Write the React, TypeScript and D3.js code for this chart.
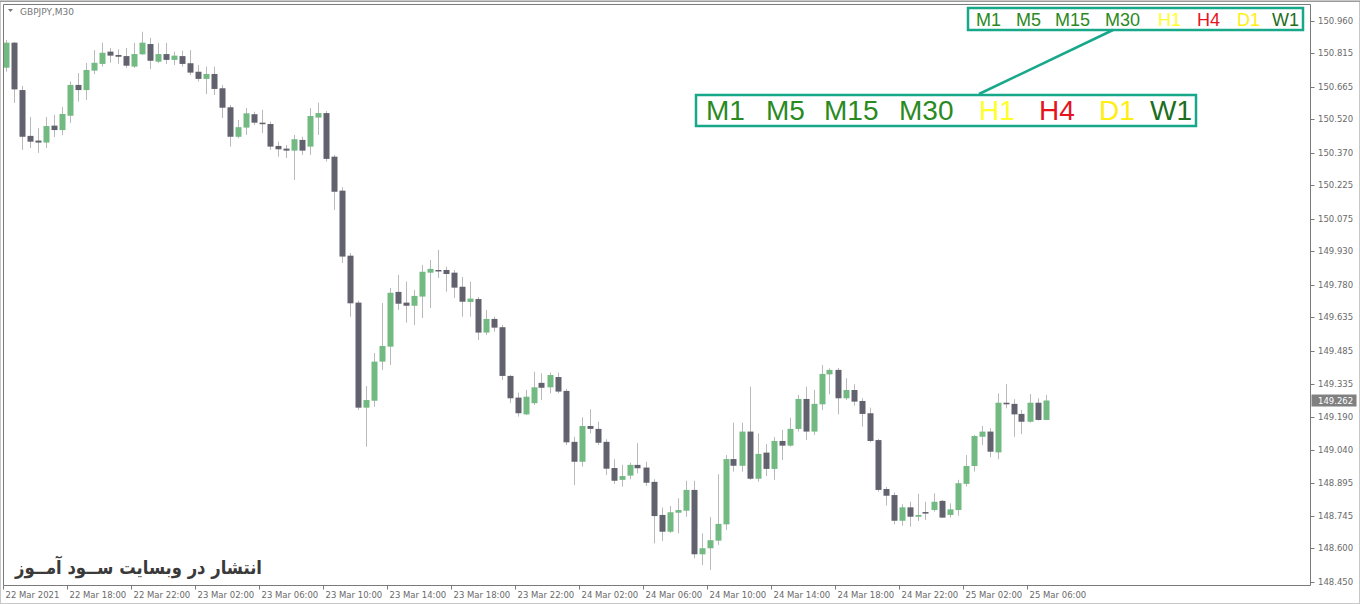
import React from "react";
import * as d3 from "d3";

const W = 1360;
const H = 604;
const FRAME = { left: 3.5, top: 4.5, right: 1310.5, bottom: 585.5 };

// OHLC of the GBPJPY M30 bars, 22 Mar 14:00 onward
const opens = [
  150.751, 150.863, 150.651, 150.446, 150.425, 150.416, 150.492, 150.472, 150.536, 150.674,
  150.651, 150.738, 150.768, 150.823, 150.808, 150.803, 150.756, 150.811, 150.857, 150.778,
  150.812, 150.786, 150.803, 150.771, 150.733, 150.701, 150.723, 150.659, 150.574, 150.442,
  150.483, 150.543, 150.505, 150.499, 150.401, 150.389, 150.38, 150.428, 150.398, 150.528,
  150.548, 150.353, 150.201, 149.91, 149.7, 149.23, 149.261, 149.436, 149.503, 149.748,
  149.7, 149.686, 149.727, 149.834, 149.846, 149.846, 149.834, 149.771, 149.703, 149.716,
  149.566, 149.627, 149.59, 149.372, 149.275, 149.2, 149.25, 149.341, 149.321, 149.367,
  149.305, 149.077, 148.988, 149.148, 149.135, 149.077, 148.96, 148.907, 148.926, 148.974,
  148.962, 148.898, 148.75, 148.675, 148.76, 148.769, 148.862, 148.574, 148.601, 148.635,
  148.708, 149.0, 148.97, 149.123, 148.912, 149.029, 148.956, 149.081, 149.06, 149.135,
  149.269, 149.123, 149.245, 149.379, 149.399, 149.272, 149.309, 149.26, 149.205, 149.085,
  148.866, 148.839, 148.724, 148.784, 148.742, 148.763, 148.772, 148.813, 148.75, 148.772,
  148.889, 148.969, 149.1, 149.123, 149.03, 149.252, 149.247, 149.202, 149.167, 149.252,
  149.175,
];
const highs = [
  150.875, 150.867, 150.669, 150.531, 150.481, 150.531, 150.54, 150.575, 150.689, 150.727,
  150.772, 150.83, 150.863, 150.839, 150.833, 150.839, 150.862, 150.912, 150.884, 150.862,
  150.862, 150.823, 150.827, 150.83, 150.763, 150.756, 150.756, 150.674, 150.584, 150.517,
  150.571, 150.554, 150.562, 150.51, 150.42, 150.405, 150.45, 150.442, 150.57, 150.595,
  150.557, 150.361, 150.217, 149.922, 149.709, 149.327, 149.475, 149.698, 149.766, 149.824,
  149.794, 149.757, 149.868, 149.891, 149.936, 149.861, 149.846, 149.815, 149.794, 149.725,
  149.667, 149.637, 149.6, 149.376, 149.297, 149.309, 149.391, 149.384, 149.387, 149.387,
  149.314, 149.1, 149.187, 149.223, 149.167, 149.089, 148.999, 148.974, 148.984, 149.071,
  148.988, 148.91, 148.783, 148.79, 148.825, 148.903, 148.903, 148.668, 148.74, 148.932,
  149.018, 149.163, 149.163, 149.324, 149.115, 149.068, 149.098, 149.13, 149.185, 149.287,
  149.324, 149.309, 149.421, 149.406, 149.408, 149.362, 149.335, 149.272, 149.23, 149.09,
  148.875, 148.851, 148.798, 148.809, 148.844, 148.809, 148.847, 148.817, 148.802, 148.907,
  149.018, 149.108, 149.148, 149.138, 149.294, 149.336, 149.268, 149.22, 149.291, 149.272,
  149.287,
];
const lows = [
  150.733, 150.593, 150.383, 150.392, 150.37, 150.392, 150.441, 150.45, 150.504, 150.599,
  150.607, 150.723, 150.756, 150.773, 150.768, 150.75, 150.75, 150.808, 150.745, 150.772,
  150.768, 150.763, 150.756, 150.718, 150.689, 150.633, 150.629, 150.526, 150.398, 150.435,
  150.45, 150.495, 150.459, 150.383, 150.353, 150.347, 150.249, 150.361, 150.361, 150.45,
  150.331, 150.115, 149.877, 149.637, 149.22, 149.055, 149.234, 149.399, 149.421, 149.667,
  149.61, 149.6, 149.631, 149.676, 149.81, 149.749, 149.721, 149.637, 149.637, 149.533,
  149.555, 149.57, 149.354, 149.25, 149.19, 149.197, 149.242, 149.264, 149.294, 149.294,
  149.063, 148.884, 148.966, 149.115, 149.063, 148.929, 148.889, 148.877, 148.91, 148.936,
  148.88, 148.623, 148.634, 148.669, 148.668, 148.742, 148.556, 148.526, 148.504, 148.616,
  148.683, 148.944, 148.944, 148.907, 148.899, 148.924, 148.907, 148.996, 149.055, 149.123,
  149.085, 149.108, 149.22, 149.29, 149.2, 149.264, 149.239, 149.145, 149.075, 148.854,
  148.792, 148.708, 148.702, 148.698, 148.723, 148.728, 148.765, 148.737, 148.738, 148.747,
  148.877, 148.944, 149.063, 149.008, 148.999, 149.227, 149.1, 149.112, 149.163, 149.172,
  149.175,
];
const closes = [
  150.863, 150.654, 150.442, 150.42, 150.416, 150.49, 150.472, 150.544, 150.674, 150.651,
  150.741, 150.773, 150.818, 150.805, 150.8, 150.76, 150.812, 150.863, 150.782, 150.812,
  150.786, 150.805, 150.768, 150.729, 150.701, 150.723, 150.656, 150.572, 150.442, 150.485,
  150.547, 150.505, 150.499, 150.398, 150.386, 150.38, 150.431, 150.38, 150.535, 150.548,
  150.343, 150.196, 149.906, 149.697, 149.23, 149.264, 149.436, 149.506, 149.744, 149.695,
  149.686, 149.73, 149.838, 149.851, 149.842, 149.828, 149.767, 149.704, 149.718, 149.566,
  149.627, 149.588, 149.372, 149.272, 149.205, 149.279, 149.321, 149.319, 149.376, 149.302,
  149.075, 148.988, 149.148, 149.135, 149.073, 148.957, 148.903, 148.924, 148.974, 148.959,
  148.894, 148.745, 148.675, 148.762, 148.772, 148.862, 148.574, 148.601, 148.637, 148.71,
  149.0, 148.97, 149.123, 148.912, 149.023, 148.956, 149.081, 149.06, 149.135, 149.269,
  149.123, 149.247, 149.381, 149.399, 149.272, 149.309, 149.257, 149.202, 149.081, 148.862,
  148.836, 148.724, 148.784, 148.742, 148.75, 148.756, 148.809, 148.738, 148.775, 148.892,
  148.969, 149.103, 149.123, 149.033, 149.252, 149.245, 149.2, 149.167, 149.252, 149.175,
  149.262,
];

const priceTicks = [
  150.96, 150.815, 150.665, 150.52, 150.37, 150.225, 150.075, 149.93, 149.78, 149.635,
  149.485, 149.335, 149.19, 149.04, 148.895, 148.745, 148.6, 148.45,
];
const lastPrice = 149.262;

const timeTickBars = [0, 8, 16, 24, 32, 40, 48, 56, 64, 72, 80, 88, 96, 104, 112, 120, 128];
const timeTickLabels = [
  "22 Mar 2021", "22 Mar 18:00", "22 Mar 22:00", "23 Mar 02:00", "23 Mar 06:00",
  "23 Mar 10:00", "23 Mar 14:00", "23 Mar 18:00", "23 Mar 22:00", "24 Mar 02:00",
  "24 Mar 06:00", "24 Mar 10:00", "24 Mar 14:00", "24 Mar 18:00", "24 Mar 22:00",
  "25 Mar 02:00", "25 Mar 06:00",
];

const tfNames = ["M1", "M5", "M15", "M30", "H1", "H4", "D1", "W1"];
const tfColors = ["#2a8a22", "#2a8a22", "#2a8a22", "#2a8a22", "#ffff2a", "#e3141e", "#ffee10", "#1d6e1d"];

const TEAL = "#17a88a";
const BULL = "#72b982";
const BEAR = "#62626f";
const WICK = "#b9b9b9";
const AXIS_FONT = "DejaVu Sans, Tahoma, sans-serif";

export default function App() {
  const x = d3.scaleLinear().domain([0, 130]).range([5.5, 1045.5]);
  const y = d3.scaleLinear().domain([148.45, 150.96]).range([582, 21]);
  const bodyW = 6;

  const bars = d3.range(opens.length).map((i) => ({
    i,
    o: opens[i],
    h: highs[i],
    l: lows[i],
    c: closes[i],
  }));

  // legend label offsets (small strip and enlarged copy)
  const smallX = [976, 1016, 1055, 1105, 1158, 1197, 1237, 1272];
  const bigX = [706, 766, 824, 899, 979, 1039, 1099, 1150];

  return (
    <svg
      width={W}
      height={H}
      style={{ position: "absolute", left: 0, top: 0, background: "#fff", display: "block" }}
    >
      <rect x={0.5} y={0.5} width={W - 1} height={H - 1} fill="#fff" stroke="#c8c8c8" />
      <line x1={0} x2={W} y1={1.5} y2={1.5} stroke="#9a9a9a" />

      <clipPath id="plot">
        <rect x={FRAME.left} y={FRAME.top} width={FRAME.right - FRAME.left} height={FRAME.bottom - FRAME.top} />
      </clipPath>

      <g clipPath="url(#plot)">
        {bars.map((b) => {
          const cx = Math.round(x(b.i));
          const up = b.c >= b.o;
          const top = y(Math.max(b.o, b.c));
          const bot = y(Math.min(b.o, b.c));
          return (
            <g key={b.i}>
              <line x1={cx + 0.5} x2={cx + 0.5} y1={y(b.h)} y2={y(b.l)} stroke={WICK} strokeWidth={1} />
              <rect
                x={cx - bodyW / 2 + 0.5}
                y={top}
                width={bodyW}
                height={Math.max(1.5, bot - top)}
                fill={up ? BULL : BEAR}
              />
            </g>
          );
        })}
      </g>

      {/* frame */}
      <line x1={FRAME.left} x2={FRAME.left} y1={FRAME.top} y2={FRAME.bottom} stroke="#7a7a7a" />
      <line x1={FRAME.left} x2={FRAME.right} y1={FRAME.top} y2={FRAME.top} stroke="#7a7a7a" />
      <line x1={FRAME.right} x2={FRAME.right} y1={FRAME.top} y2={FRAME.bottom} stroke="#7a7a7a" />
      <line x1={FRAME.left} x2={FRAME.right} y1={FRAME.bottom} y2={FRAME.bottom} stroke="#7a7a7a" />

      {/* price axis */}
      {priceTicks.map((p) => (
        <g key={p}>
          <line x1={FRAME.right} x2={FRAME.right + 4} y1={Math.round(y(p)) + 0.5} y2={Math.round(y(p)) + 0.5} stroke="#7a7a7a" />
          <text x={1318} y={y(p) + 3} fontFamily={AXIS_FONT} fontSize={8.5} fill="#6a6a6a">
            {d3.format(".3f")(p)}
          </text>
        </g>
      ))}
      <rect x={FRAME.right + 1} y={y(lastPrice) - 6} width={45} height={12} fill="#808080" />
      <text x={1318} y={y(lastPrice) + 3} fontFamily={AXIS_FONT} fontSize={8.5} fill="#fff">
        {d3.format(".3f")(lastPrice)}
      </text>

      {/* time axis */}
      {timeTickBars.map((bi, k) => {
        const tx = k === 0 ? FRAME.left : Math.round(x(bi)) - 2.5;
        return (
          <g key={bi}>
            <line x1={tx} x2={tx} y1={FRAME.bottom} y2={FRAME.bottom + 4} stroke="#7a7a7a" />
            <text x={tx + 2} y={598} fontFamily={AXIS_FONT} fontSize={8.5} fill="#6a6a6a">
              {timeTickLabels[k]}
            </text>
          </g>
        );
      })}

      {/* symbol title */}
      <path d="M8,9 L13,9 L10.5,12 Z" fill="#777" />
      <text x={20} y={14.5} fontFamily={AXIS_FONT} fontSize={9} fill="#777">
        GBPJPY,M30
      </text>

      {/* timeframe strip + enlarged copy */}
      <rect x={968} y={8} width={335} height={22} fill="none" stroke={TEAL} strokeWidth={2.5} />
      {tfNames.map((n, k) => (
        <text key={"s" + n} x={smallX[k]} y={26} fontFamily="Liberation Sans, Arial, sans-serif" fontSize={18} fill={tfColors[k]}>
          {n}
        </text>
      ))}
      <line x1={1113} y1={30} x2={979} y2={94} stroke={TEAL} strokeWidth={2.5} />
      <rect x={696} y={95} width={500} height={31} fill="none" stroke={TEAL} strokeWidth={2.5} />
      {tfNames.map((n, k) => (
        <text key={"b" + n} x={bigX[k]} y={119.5} fontFamily="Liberation Sans, Arial, sans-serif" fontSize={28} fill={tfColors[k]}>
          {n}
        </text>
      ))}

      {/* watermark */}
      <text
        x={15}
        y={574}
        fontFamily="DejaVu Sans, sans-serif"
        fontWeight="bold"
        fontSize={19}
        fill="#3a3a3a"
        textLength={247}
        lengthAdjust="spacingAndGlyphs"
      >
        انتشار در وبسایت ســود آمــوز
      </text>
    </svg>
  );
}
